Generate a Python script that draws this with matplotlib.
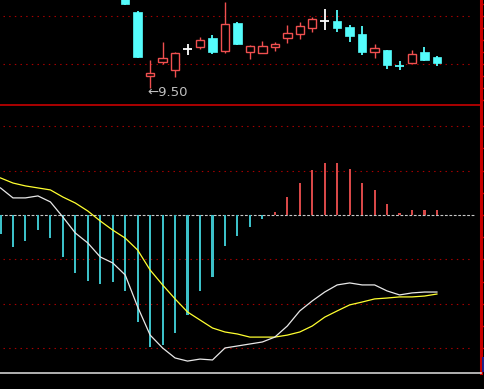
import matplotlib
matplotlib.use("Agg")
import matplotlib.pyplot as plt
from matplotlib.patches import Rectangle

# ---------------- data ----------------
# candlesticks (bar index, open, high, low, close)
candle_idx = list(range(10, 36))
opens  = [10.283, 10.133, 9.600, 9.717, 9.650, 9.825, 9.842, 9.917, 9.808, 10.042,
          9.800, 9.792, 9.842, 9.917, 9.950, 10.000, 10.058, 10.058, 10.008, 9.950,
          9.800, 9.817, 9.683, 9.708, 9.800, 9.758]
highs  = [10.317, 10.142, 9.733, 9.883, 9.800, 9.867, 9.925, 9.942, 10.217, 10.050,
          9.858, 9.892, 9.883, 10.025, 10.050, 10.092, 10.158, 10.150, 10.025, 10.017,
          9.867, 9.817, 9.725, 9.817, 9.842, 9.767]
lows   = [10.190, 9.750, 9.500, 9.700, 9.592, 9.775, 9.825, 9.783, 9.792, 9.858,
          9.742, 9.792, 9.808, 9.875, 9.908, 9.967, 9.983, 9.967, 9.883, 9.775,
          9.750, 9.658, 9.650, 9.708, 9.725, 9.683]
closes = [10.200, 9.758, 9.625, 9.750, 9.792, 9.825, 9.900, 9.800, 10.033, 9.867,
          9.850, 9.850, 9.867, 9.958, 10.017, 10.075, 10.058, 10.000, 9.933, 9.800,
          9.833, 9.692, 9.683, 9.783, 9.733, 9.708]
cyan_doji = [32]   # doji crosses drawn in cyan, others white

# MACD (bar index 0..35)
macd_idx = list(range(36))
dif = [0.0122, 0.0077, 0.0077, 0.0086, 0.0059, -0.0009, -0.0081, -0.0126, -0.0189, -0.0216,
       -0.0270, -0.0414, -0.0541, -0.0599, -0.0644, -0.0658, -0.0649, -0.0653, -0.0599, -0.0590,
       -0.0581, -0.0572, -0.0550, -0.0500, -0.0432, -0.0387, -0.0347, -0.0315, -0.0306, -0.0315,
       -0.0315, -0.0342, -0.0360, -0.0351, -0.0347, -0.0347]
dea = [0.0167, 0.0144, 0.0131, 0.0122, 0.0113, 0.0081, 0.0054, 0.0018, -0.0027, -0.0068,
       -0.0104, -0.0158, -0.0248, -0.0315, -0.0378, -0.0437, -0.0473, -0.0509, -0.0527, -0.0536,
       -0.0550, -0.0550, -0.0550, -0.0541, -0.0527, -0.0500, -0.0460, -0.0432, -0.0405, -0.0392,
       -0.0378, -0.0374, -0.0369, -0.0369, -0.0365, -0.0356]
hist = [-0.0086, -0.0144, -0.0117, -0.0068, -0.0104, -0.0189, -0.0261, -0.0297, -0.0311, -0.0302,
        -0.0342, -0.0482, -0.0595, -0.0586, -0.0532, -0.0450, -0.0342, -0.0279, -0.0140, -0.0095,
        -0.0054, -0.0018, 0.0014, 0.0081, 0.0144, 0.0203, 0.0234, 0.0234, 0.0207, 0.0144,
        0.0113, 0.0050, 0.0009, 0.0023, 0.0023, 0.0023]

price_grid = [9.70, 10.10]
price_ticks = [9.40, 9.50, 9.60, 9.70, 9.80, 9.90, 10.00, 10.10, 10.20]
macd_grid = [0.04, 0.02, -0.02, -0.04, -0.06]
macd_ticks = [0.04, 0.03, 0.02, 0.01, 0.0, -0.01, -0.02, -0.03, -0.04, -0.05, -0.06, -0.07]

# ---------------- style ----------------
W, H = 484, 389
BG = "#000000"
CYAN = "#54FCFC"
RED = "#F05050"
GRID_RED = "#A80000"
AX_RED = "#C80000"

fig = plt.figure(figsize=(W / 100, H / 100), dpi=100, facecolor=BG)

right_px = 480.5
xlim = ((0 - 0.5) / 12.47, (right_px - 0.5) / 12.47)

def frac(x0, y0, x1, y1):
    return [x0 / W, 1 - y1 / H, (x1 - x0) / W, (y1 - y0) / H]

ax1 = fig.add_axes(frac(0, 0, right_px, 105))
ax2 = fig.add_axes(frac(0, 105, right_px, 373))

for ax in (ax1, ax2):
    ax.set_facecolor(BG)
    ax.set_xlim(*xlim)
    for s in ("left", "top", "bottom"):
        ax.spines[s].set_visible(False)
    ax.spines["right"].set_color(AX_RED)
    ax.spines["right"].set_linewidth(2.2)
    ax.yaxis.tick_right()
    ax.tick_params(axis="y", direction="out", length=2.5, width=1, color=AX_RED,
                   labelright=False, labelleft=False)
    ax.tick_params(axis="x", bottom=False, labelbottom=False)

ax2.spines["top"].set_visible(True)
ax2.spines["top"].set_color(AX_RED)
ax2.spines["top"].set_linewidth(1.2)
ax2.spines["bottom"].set_visible(True)
ax2.spines["bottom"].set_color("#D0D0D0")
ax2.spines["bottom"].set_linewidth(1.2)

# ---------------- price panel ----------------
ax1.set_ylim(9.50 - 17 / 120, 9.50 + 88 / 120)
ax1.set_yticks(price_ticks)
for g in price_grid:
    ax1.axhline(g, xmin=0.006, xmax=0.985, color=GRID_RED, lw=0.8,
                linestyle=(0, (1.3, 3.8)))

bw = 0.68
for k, i in enumerate(candle_idx):
    o, h, l, c = opens[k], highs[k], lows[k], closes[k]
    if c > o:
        ax1.vlines(i, c, h, color=RED, lw=1.0, zorder=3)
        ax1.vlines(i, l, o, color=RED, lw=1.0, zorder=3)
        ax1.add_patch(Rectangle((i - bw / 2, o), bw, c - o, facecolor=BG,
                                edgecolor=RED, lw=1.0, zorder=4))
    elif c < o:
        ax1.vlines(i, l, h, color=CYAN, lw=1.3, zorder=3)
        ax1.add_patch(Rectangle((i - bw / 2, c), bw, o - c, facecolor=CYAN,
                                edgecolor=CYAN, lw=0.5, zorder=4))
    else:
        col = CYAN if i in cyan_doji else "#FFFFFF"
        ax1.vlines(i, l, h, color=col, lw=1.3, zorder=3)
        ax1.hlines(o, i - bw / 2, i + bw / 2, color=col, lw=1.3, zorder=3)

# lowest low label
kmin = min(range(len(lows)), key=lambda k: lows[k])
ax1.annotate(f"\u2190{lows[kmin]:.2f}", xy=(candle_idx[kmin], lows[kmin]),
             xytext=(-3, -5), textcoords="offset pixels", ha="left", va="center",
             color="#C0C0C0", fontsize=9.5, family="DejaVu Sans")

# ---------------- MACD panel ----------------
ax2.set_ylim(-(373 - 215) * 0.02 / 44.4, (215 - 105) * 0.02 / 44.4)
ax2.set_yticks(macd_ticks)
for g in macd_grid:
    ax2.axhline(g, xmin=0.006, xmax=0.985, color=GRID_RED, lw=0.8,
                linestyle=(0, (1.3, 3.8)))
ax2.axhline(0, xmin=0.0, xmax=0.988, color="#C8C8C8", lw=0.8,
            linestyle=(0, (2.5, 1.5)), zorder=2)

neg_col = "#3CC0C8"
pos_col = "#D84848"
for i, v in zip(macd_idx, hist):
    ax2.bar(i, v, width=0.17, color=neg_col if v < 0 else pos_col,
            linewidth=0, zorder=3)

ax2.plot(macd_idx, dea, color="#FFFF30", lw=0.9, zorder=5)
ax2.plot(macd_idx, dif, color="#E8E8E8", lw=0.9, zorder=6)

# small marker box at bottom right
fig.patches.append(Rectangle((482 / W, 1 - 372 / H), 2 / W, 15 / H,
                             transform=fig.transFigure, facecolor="#202088",
                             edgecolor="none"))

fig.savefig("out.png", dpi=100, facecolor=BG)
